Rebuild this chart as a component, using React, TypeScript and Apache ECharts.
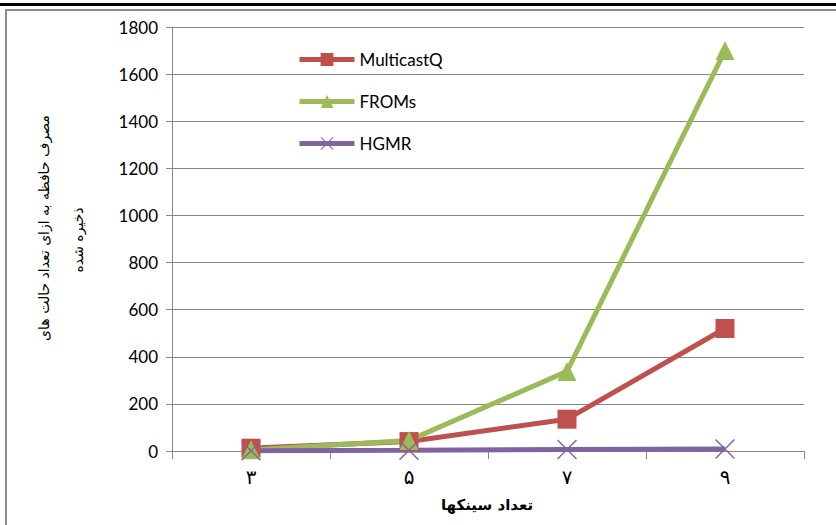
import React, { useEffect, useRef } from "react";
import * as echarts from "echarts";

const categories = ["۳", "۵", "۷", "۹"];
const multicastQ = [12, 40, 135, 520];
const froms = [5, 45, 338, 1700];
const hgmr = [1, 3, 6, 8];
const yAxisTitle1 = "مصرف حافظه به ازای تعداد حالت های";
const yAxisTitle2 = "ذخیره شده";
const xAxisTitle = "تعداد سینکها";

const crossPath = "path://M0,1L1,0L20,19L19,20Z M19,0L20,1L1,20L0,19Z";

export default function App() {
  const ref = useRef<HTMLDivElement>(null);
  useEffect(() => {
    document.body.style.margin = "0";
    const chart = echarts.init(ref.current!, null, { renderer: "svg" });
    const grey = "#868686";
    chart.setOption({
      animation: false,
      backgroundColor: "#fff",
      grid: { left: 172, right: 32, top: 27, bottom: 74, containLabel: false },
      legend: {
        orient: "vertical",
        left: 292,
        top: 46,
        itemWidth: 55,
        itemHeight: 16,
        itemGap: 25,
        lineStyle: { width: 5 },
        textStyle: { fontFamily: "Lato", fontSize: 17, color: "#000" },
        data: ["MulticastQ", "FROMs", "HGMR"],
      },
      xAxis: {
        type: "category",
        data: categories,
        boundaryGap: true,
        axisLine: { lineStyle: { color: grey, width: 1 } },
        axisTick: { show: true, length: 8, lineStyle: { color: grey } },
        axisLabel: {
          fontFamily: "DejaVu Sans",
          fontSize: 20,
          color: "#000",
          margin: 16,
        },
      },
      yAxis: {
        type: "value",
        min: 0,
        max: 1800,
        interval: 200,
        axisLine: { show: true, lineStyle: { color: grey, width: 1 } },
        axisTick: { show: true, length: 6, lineStyle: { color: grey } },
        splitLine: { lineStyle: { color: grey, width: 1 } },
        axisLabel: {
          fontFamily: "Lato",
          fontSize: 17,
          color: "#000",
          margin: 14,
          formatter: (v: number) => String(v),
        },
      },
      graphic: [
        { type: "rect", shape: { x: 0, y: 3, width: 836, height: 3 }, style: { fill: "#000" }, silent: true },
        {
          type: "rect",
          shape: { x: 6, y: 10, width: 900, height: 700 },
          style: { fill: "none", stroke: "#8c8c8c", lineWidth: 2 },
          silent: true,
          z: -1,
        },
        {
          type: "text",
          x: 44,
          y: 228,
          rotation: Math.PI / 2,
          style: {
            text: yAxisTitle1,
            fontFamily: "DejaVu Sans",
            fontSize: 14,
            fill: "#000",
            align: "center",
            verticalAlign: "middle",
          },
        },
        {
          type: "text",
          x: 78,
          y: 240,
          rotation: Math.PI / 2,
          style: {
            text: yAxisTitle2,
            fontFamily: "DejaVu Sans",
            fontSize: 14,
            fill: "#000",
            align: "center",
            verticalAlign: "middle",
          },
        },
        {
          type: "text",
          x: 487,
          y: 505,
          style: {
            text: xAxisTitle,
            fontFamily: "DejaVu Sans",
            fontSize: 15,
            fontWeight: "bold",
            fill: "#000",
            align: "center",
            verticalAlign: "middle",
          },
        },
      ],
      series: [
        {
          name: "MulticastQ",
          type: "line",
          data: multicastQ,
          symbol: "rect",
          symbolSize: 19,
          lineStyle: { color: "#C0504D", width: 5 },
          itemStyle: { color: "#C0504D" },
        },
        {
          name: "FROMs",
          type: "line",
          data: froms,
          symbol: "triangle",
          symbolSize: 19,
          lineStyle: { color: "#9BBB59", width: 5 },
          itemStyle: { color: "#9BBB59" },
        },
        {
          name: "HGMR",
          type: "line",
          data: hgmr,
          symbol: crossPath,
          symbolSize: 20,
          lineStyle: { color: "#8064A2", width: 5 },
          itemStyle: { color: "#8064A2" },
        },
      ],
    });
    return () => chart.dispose();
  }, []);
  return <div ref={ref} style={{ width: 836, height: 525 }} />;
}
